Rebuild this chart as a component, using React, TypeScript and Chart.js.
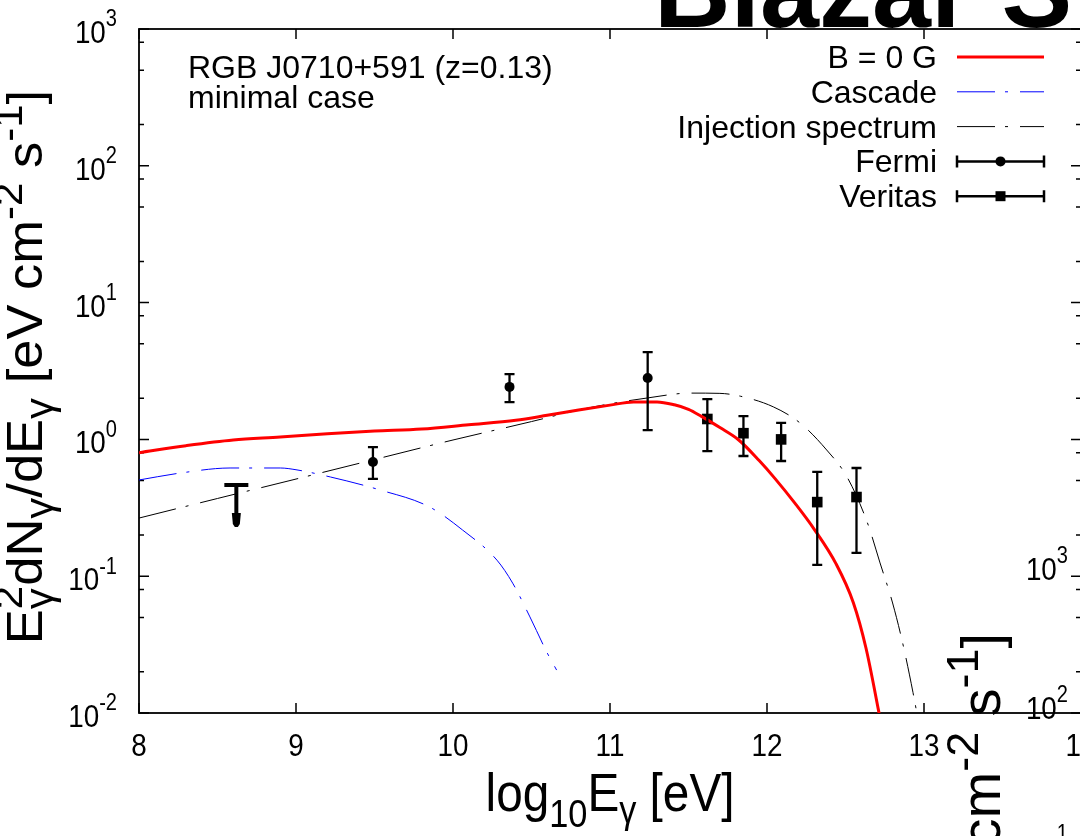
import React, { useEffect, useRef } from 'react';
import { Chart, registerables } from 'chart.js';

Chart.register(...registerables);

// ---------------- data ----------------
const X_TICKS = [8, 9, 10, 11, 12, 13, 14];
const Y_TICKS = [0.01, 0.1, 1, 10, 100, 1000];
const Y_TICK_EXP = ['-2', '-1', '0', '1', '2', '3'];
const Y_MINOR_MULT = [2, 5, 8];

const B0_X = [8.0, 8.3, 8.6, 8.9, 9.2, 9.5, 9.8, 10.1, 10.4, 10.6, 10.8, 11.0, 11.15, 11.3, 11.41, 11.5, 11.58, 11.7, 11.82, 11.95, 12.05, 12.18, 12.3, 12.44, 12.55, 12.63, 12.71, 12.75];
const B0_Y = [0.80, 0.90, 0.99, 1.04, 1.10, 1.15, 1.19, 1.28, 1.38, 1.50, 1.64, 1.78, 1.88, 1.88, 1.79, 1.66, 1.48, 1.22, 0.99, 0.70, 0.519, 0.339, 0.221, 0.123, 0.064, 0.030, 0.0105, 0.006];

const CASCADE_X = [8.0, 8.26, 8.58, 8.9, 9.0, 9.22, 9.535, 9.85, 10.06, 10.28, 10.38, 10.49, 10.6, 10.66];
const CASCADE_Y = [0.505, 0.567, 0.618, 0.618, 0.60, 0.531, 0.427, 0.321, 0.218, 0.131, 0.089, 0.0504, 0.0275, 0.0206];

const INJ_X = [8.0, 8.5, 9.0, 9.5, 10.0, 10.5, 10.8, 11.0, 11.24, 11.51, 11.7, 11.83, 12.04, 12.21, 12.38, 12.51, 12.64, 12.72, 12.8, 12.87, 12.93, 12.97];
const INJ_Y = [0.266, 0.37, 0.513, 0.713, 0.99, 1.35, 1.64, 1.82, 2.01, 2.18, 2.17, 2.07, 1.73, 1.32, 0.837, 0.531, 0.245, 0.125, 0.0637, 0.0303, 0.0141, 0.008];

const FERMI_X = [9.49, 10.36, 11.24];
const FERMI_Y = [0.684, 2.42, 2.81];
const FERMI_LO = [0.514, 1.87, 1.17];
const FERMI_HI = [0.879, 3.0, 4.35];

const FERMI_UL_X = [8.62];
const FERMI_UL_Y = [0.465];
const FERMI_UL_TIP = [0.229];

const VERITAS_X = [11.62, 11.85, 12.09, 12.32, 12.57];
const VERITAS_Y = [1.41, 1.11, 1.0, 0.348, 0.379];
const VERITAS_LO = [0.822, 0.756, 0.695, 0.121, 0.148];
const VERITAS_HI = [1.97, 1.48, 1.32, 0.578, 0.618];

const LEGEND_LABELS = ['B = 0 G', 'Cascade', 'Injection spectrum', 'Fermi', 'Veritas'];
const ANNOTATION = ['RGB J0710+591 (z=0.13)', 'minimal case'];
const OVERLAP_TITLE = 'Blazar S';
const OVERLAP_TICK_EXP = ['3', '2', '1'];

// ---------------- text helpers ----------------
const FONT = '"Liberation Sans", Arial, Helvetica, sans-serif';

type Seg = { t: string; s?: number; dy?: number; stack?: boolean };

function segsWidth(ctx: CanvasRenderingContext2D, segs: Seg[], size: number, bold: boolean) {
  let total = 0;
  let stackW = 0;
  for (const sg of segs) {
    ctx.font = `${bold ? 'bold ' : ''}${size * (sg.s ?? 1)}px ${FONT}`;
    const w = ctx.measureText(sg.t).width;
    if (sg.stack) { stackW = w; continue; }
    total += Math.max(w, stackW);
    stackW = 0;
  }
  return total;
}

function drawRich(
  ctx: CanvasRenderingContext2D, segs: Seg[], x: number, y: number, size: number,
  align: 'left' | 'center' | 'right', opts: { sx?: number; rot?: number; bold?: boolean; color?: string } = {}
) {
  const { sx = 1, rot = 0, bold = false, color = '#000' } = opts;
  ctx.save();
  ctx.translate(x, y);
  if (rot) ctx.rotate(rot);
  ctx.scale(sx, 1);
  ctx.fillStyle = color;
  ctx.textBaseline = 'alphabetic';
  ctx.textAlign = 'left';
  const w = segsWidth(ctx, segs, size, bold);
  let cx = align === 'left' ? 0 : align === 'center' ? -w / 2 : -w;
  let stackW = 0;
  for (const sg of segs) {
    ctx.font = `${bold ? 'bold ' : ''}${size * (sg.s ?? 1)}px ${FONT}`;
    const tw = ctx.measureText(sg.t).width;
    ctx.fillText(sg.t, cx, (sg.dy ?? 0) * size);
    if (sg.stack) { stackW = tw; continue; }
    cx += Math.max(tw, stackW);
    stackW = 0;
  }
  ctx.restore();
}

const SS = 0.8;
const SUB = 0.22;
const SUP = -0.4;
const Y_TITLE: Seg[] = [
  { t: 'E' }, { t: 'γ', s: SS, dy: SUB, stack: true }, { t: '2', s: SS, dy: SUP },
  { t: 'dN' }, { t: 'γ', s: SS, dy: SUB }, { t: '/dE' }, { t: 'γ', s: SS, dy: SUB },
  { t: ' [eV cm' }, { t: '-2', s: SS, dy: SUP }, { t: ' s' }, { t: '-1', s: SS, dy: SUP }, { t: ']' },
];
const X_TITLE: Seg[] = [
  { t: 'log' }, { t: '10', s: 0.72, dy: 0.3 }, { t: 'E' }, { t: 'γ', s: 0.72, dy: SUB }, { t: ' [eV]' },
];

const TICK_FONT = 32;
const TICK_SX = 0.87;

// ---------------- plugins ----------------
const framePlugin = {
  id: 'gnuframe',
  beforeDatasetsDraw(chart: any) {
    const { ctx, chartArea: a, scales } = chart;
    const xs = scales.x, ys = scales.y;
    ctx.save();
    ctx.strokeStyle = '#000';
    ctx.lineWidth = 1.8;
    ctx.strokeRect(a.left, a.top, a.right - a.left, a.bottom - a.top);
    ctx.lineWidth = 1.5;
    ctx.beginPath();
    for (const v of X_TICKS) {
      const px = xs.getPixelForValue(v);
      ctx.moveTo(px, a.bottom); ctx.lineTo(px, a.bottom - 10);
      ctx.moveTo(px, a.top); ctx.lineTo(px, a.top + 10);
    }
    for (let i = 0; i < Y_TICKS.length; i++) {
      const v = Y_TICKS[i];
      const py = ys.getPixelForValue(v);
      ctx.moveTo(a.left, py); ctx.lineTo(a.left + 10, py);
      ctx.moveTo(a.right, py); ctx.lineTo(a.right - 10, py);
      if (i < Y_TICKS.length - 1) {
        for (const m of Y_MINOR_MULT) {
          const pm = ys.getPixelForValue(v * m);
          ctx.moveTo(a.left, pm); ctx.lineTo(a.left + 5, pm);
          ctx.moveTo(a.right, pm); ctx.lineTo(a.right - 5, pm);
        }
      }
    }
    ctx.stroke();

    // tick labels
    for (const v of X_TICKS) {
      drawRich(ctx, [{ t: String(v) }], xs.getPixelForValue(v), 756, TICK_FONT, 'center', { sx: TICK_SX });
    }
    for (let i = 0; i < Y_TICKS.length; i++) {
      const py = ys.getPixelForValue(Y_TICKS[i]);
      drawRich(ctx, [{ t: '10' }, { t: Y_TICK_EXP[i], s: 0.72, dy: -0.52 }], 117, py + 14, TICK_FONT, 'right', { sx: TICK_SX });
    }

    // axis titles
    drawRich(ctx, X_TITLE, (a.left + a.right) / 2, 811, 53, 'center', { sx: 0.9 });
    drawRich(ctx, Y_TITLE, 42, (a.top + a.bottom) / 2 - 4, 50, 'center', { rot: -Math.PI / 2, sx: 1.05 });
    ctx.restore();
  },
};

function errBar(ctx: CanvasRenderingContext2D, px: number, pyLo: number, pyHi: number) {
  ctx.beginPath();
  ctx.moveTo(px, pyLo); ctx.lineTo(px, pyHi);
  ctx.moveTo(px - 5, pyLo); ctx.lineTo(px + 5, pyLo);
  ctx.moveTo(px - 5, pyHi); ctx.lineTo(px + 5, pyHi);
  ctx.stroke();
}

const overlayPlugin = {
  id: 'gnuoverlay',
  afterDatasetsDraw(chart: any) {
    const { ctx, scales } = chart;
    const xs = scales.x, ys = scales.y;
    ctx.save();
    ctx.strokeStyle = '#000';
    ctx.fillStyle = '#000';
    ctx.lineWidth = 2.3;
    for (let i = 0; i < FERMI_X.length; i++) {
      errBar(ctx, xs.getPixelForValue(FERMI_X[i]), ys.getPixelForValue(FERMI_LO[i]), ys.getPixelForValue(FERMI_HI[i]));
    }
    for (let i = 0; i < VERITAS_X.length; i++) {
      errBar(ctx, xs.getPixelForValue(VERITAS_X[i]), ys.getPixelForValue(VERITAS_LO[i]), ys.getPixelForValue(VERITAS_HI[i]));
    }
    // upper limit
    for (let i = 0; i < FERMI_UL_X.length; i++) {
      const px = xs.getPixelForValue(FERMI_UL_X[i]);
      const top = ys.getPixelForValue(FERMI_UL_Y[i]);
      const tip = ys.getPixelForValue(FERMI_UL_TIP[i]);
      ctx.lineWidth = 4;
      ctx.beginPath();
      ctx.moveTo(px - 12, top); ctx.lineTo(px + 12, top);
      ctx.moveTo(px, top); ctx.lineTo(px, tip - 8);
      ctx.stroke();
      ctx.beginPath();
      ctx.moveTo(px - 4.5, tip - 14); ctx.lineTo(px + 4.5, tip - 14);
      ctx.lineTo(px + 3.5, tip - 3); ctx.lineTo(px + 1.5, tip); ctx.lineTo(px - 1.5, tip); ctx.lineTo(px - 3.5, tip - 3);
      ctx.closePath();
      ctx.fill();
    }

    // annotation
    drawRich(ctx, [{ t: ANNOTATION[0] }], 188, 78, 32, 'left');
    drawRich(ctx, [{ t: ANNOTATION[1] }], 188, 108, 32, 'left');

    // legend (gnuplot style)
    const sx0 = 957, sx1 = 1044, tx = 937;
    LEGEND_LABELS.forEach((lab, i) => {
      const yy = 57 + i * 34.8;
      drawRich(ctx, [{ t: lab }], tx, yy + 11, 32, 'right');
      const ds = chart.data.datasets[i];
      ctx.save();
      ctx.beginPath();
      if (i <= 2) {
        ctx.strokeStyle = ds.borderColor;
        ctx.lineWidth = ds.borderWidth;
        ctx.setLineDash(ds.borderDash || []);
        ctx.moveTo(sx0, yy); ctx.lineTo(sx1, yy);
        ctx.stroke();
      } else {
        ctx.strokeStyle = '#000';
        ctx.lineWidth = 2.5;
        ctx.moveTo(sx0, yy); ctx.lineTo(sx1, yy);
        ctx.moveTo(sx0, yy - 6); ctx.lineTo(sx0, yy + 6);
        ctx.moveTo(sx1, yy - 6); ctx.lineTo(sx1, yy + 6);
        ctx.stroke();
        ctx.fillStyle = '#000';
        const cxp = (sx0 + sx1) / 2;
        if (i === 3) {
          ctx.beginPath(); ctx.arc(cxp, yy, 5, 0, Math.PI * 2); ctx.fill();
        } else {
          ctx.fillRect(cxp - 5, yy - 5, 10, 10);
        }
      }
      ctx.restore();
    });

    // overlapping fragments of the neighbouring panel
    drawRich(ctx, [{ t: OVERLAP_TITLE }], 654, 27, 106, 'left', { bold: true });
    const nb = [580, 719, 858];
    OVERLAP_TICK_EXP.forEach((e, i) => {
      drawRich(ctx, [{ t: '10' }, { t: e, s: 0.72, dy: -0.52 }], 1068, nb[i], TICK_FONT, 'right', { sx: TICK_SX });
    });
    drawRich(ctx, Y_TITLE, 1000, 633, 56, 'right', { rot: -Math.PI / 2 });
    ctx.restore();
  },
};

export default function App() {
  const ref = useRef<HTMLCanvasElement>(null);
  useEffect(() => {
    const canvas = ref.current!;
    const DASH = [38, 10, 3, 12];
    const chart = new Chart(canvas, {
      type: 'line',
      data: {
        datasets: [
          { label: LEGEND_LABELS[0], data: B0_X.map((x, i) => ({ x, y: B0_Y[i] })), borderColor: '#ff0000', borderWidth: 3, pointRadius: 0, cubicInterpolationMode: 'monotone', fill: false },
          { label: LEGEND_LABELS[1], data: CASCADE_X.map((x, i) => ({ x, y: CASCADE_Y[i] })), borderColor: '#0000ff', borderWidth: 1, borderDash: DASH, pointRadius: 0, cubicInterpolationMode: 'monotone', fill: false },
          { label: LEGEND_LABELS[2], data: INJ_X.map((x, i) => ({ x, y: INJ_Y[i] })), borderColor: '#000000', borderWidth: 1, borderDash: DASH, pointRadius: 0, cubicInterpolationMode: 'monotone', fill: false },
          { label: LEGEND_LABELS[3], data: FERMI_X.map((x, i) => ({ x, y: FERMI_Y[i] })), showLine: false, pointStyle: 'circle', pointRadius: 5, backgroundColor: '#000', borderColor: '#000', borderWidth: 0 },
          { label: LEGEND_LABELS[4], data: VERITAS_X.map((x, i) => ({ x, y: VERITAS_Y[i] })), showLine: false, pointStyle: 'rect', pointRadius: 7.5, backgroundColor: '#000', borderColor: '#000', borderWidth: 0 },
        ],
      } as any,
      options: {
        responsive: false,
        animation: false,
        devicePixelRatio: 1,
        events: [],
        layout: { padding: { left: 139, right: 19, top: 29, bottom: 123 } },
        scales: {
          x: { type: 'linear', min: 8, max: 14, display: false },
          y: { type: 'logarithmic', min: 0.01, max: 1000, display: false },
        },
        plugins: { legend: { display: false }, tooltip: { enabled: false } },
      } as any,
      plugins: [framePlugin, overlayPlugin],
    });
    return () => chart.destroy();
  }, []);
  return (
    <div style={{ position: 'absolute', left: 0, top: 0, width: 1080, height: 836, overflow: 'hidden', background: '#fff' }}>
      <canvas ref={ref} width={1100} height={836} style={{ width: 1100, height: 836, display: 'block' }} />
    </div>
  );
}
